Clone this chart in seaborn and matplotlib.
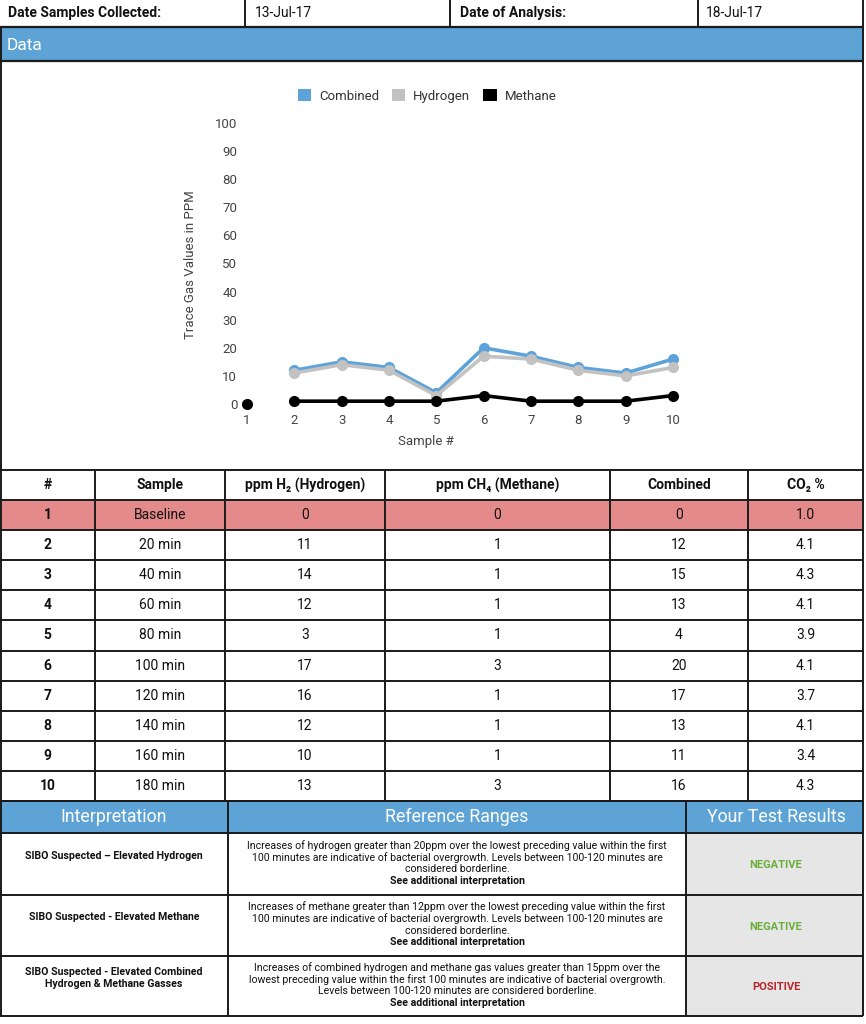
import numpy as np
import pandas as pd
import matplotlib
matplotlib.use("Agg")
import matplotlib.pyplot as plt
from matplotlib.patches import Rectangle, Patch
import seaborn as sns

# ---------- data ----------
sample_no = [1, 2, 3, 4, 5, 6, 7, 8, 9, 10]
sample_names = ["Baseline", "20 min", "40 min", "60 min", "80 min",
                "100 min", "120 min", "140 min", "160 min", "180 min"]
hydrogen = [0, 11, 14, 12, 3, 17, 16, 12, 10, 13]
methane = [0, 1, 1, 1, 1, 3, 1, 1, 1, 3]
combined = [0, 12, 15, 13, 4, 20, 17, 13, 11, 16]
co2 = ["1.0", "4.1", "4.3", "4.1", "3.9", "4.1", "3.7", "4.1", "3.4", "4.3"]

y_ticks = [0, 10, 20, 30, 40, 50, 60, 70, 80, 90, 100]
series_names = ["Combined", "Hydrogen", "Methane"]
series_colors = ["#5DA3DA", "#C2C2C2", "#000000"]

table_cols = ["#", "Sample", "ppm H\u2082 (Hydrogen)", "ppm CH\u2084 (Methane)", "Combined", "CO\u2082 %"]

interp_labels = ["SIBO Suspected \u2013 Elevated Hydrogen",
                 "SIBO Suspected - Elevated Methane",
                 "SIBO Suspected - Elevated Combined\nHydrogen & Methane Gasses"]
ref_ranges = [
    ["Increases of hydrogen greater than 20ppm over the lowest preceding value within the first",
     "100 minutes are indicative of bacterial overgrowth. Levels between 100-120 minutes are",
     "considered borderline."],
    ["Increases of methane greater than 12ppm over the lowest preceding value within the first",
     "100 minutes are indicative of bacterial overgrowth. Levels between 100-120 minutes are",
     "considered borderline."],
    ["Increases of combined hydrogen and methane gas values greater than 15ppm over the",
     "lowest preceding value within the first 100 minutes are indicative of bacterial overgrowth.",
     "Levels between 100-120 minutes are considered borderline."],
]
results = ["NEGATIVE", "NEGATIVE", "POSITIVE"]
result_colors = ["#6AAE3A", "#6AAE3A", "#B3262A"]

HEAD_BLUE = "#5DA3D6"
ROW_RED = "#E58A8A"
RES_GRAY = "#E6E6E6"
TBL_FONT = ["Roboto", "DejaVu Sans"]
CHART_FONT = ["Roboto", "DejaVu Sans"]

sns.set_theme(style="white")
plt.rcParams["font.family"] = CHART_FONT

W, H = 866, 1024
fig = plt.figure(figsize=(W / 100, H / 100), dpi=100)

# background axes in pixel coordinates for the report table
bg = fig.add_axes([0, 0, 1, 1])
bg.set_xlim(0, W)
bg.set_ylim(H, 0)
bg.axis("off")


def hline(y, x0, x1, lw=1.4):
    bg.plot([x0, x1], [y, y], color="#1a1a1a", lw=lw, solid_capstyle="butt")


def vline(x, y0, y1, lw=1.4):
    bg.plot([x, x], [y0, y1], color="#1a1a1a", lw=lw, solid_capstyle="butt")


def txt(x, y, s, size=10, weight="normal", color="#111111", ha="center", family=TBL_FONT):
    bg.text(x, y, s, fontsize=size, fontweight=weight, color=color,
            ha=ha, va="center", family=family)


# ---------- top info row ----------
R = 863
txt(8, 13, "Date Samples Collected:", size=10, weight="bold", ha="left")
txt(255, 13, "13-Jul-17", size=10, ha="left")
txt(460, 13, "Date of Analysis:", size=10, weight="bold", ha="left")
txt(706, 13, "18-Jul-17", size=10, ha="left")
for x in [245, 450, 698, R]:
    vline(x, 0, 27)

# Data bar
bg.add_patch(Rectangle((0, 27), R, 34, facecolor=HEAD_BLUE, edgecolor="none"))
hline(27, 0, R, lw=1.6)
hline(61, 0, R, lw=1.6)
txt(7, 45, "Data", size=12.5, color="white", ha="left", family=CHART_FONT)
vline(R, 27, 470)
vline(0.7, 27, 470)

# ---------- data table ----------
col_x = [0, 95, 225, 385, 610, 748, R]
row_y = [470, 500] + [500 + 30.1 * (i + 1) for i in range(10)]
bg.add_patch(Rectangle((0, row_y[1]), R, row_y[2] - row_y[1], facecolor=ROW_RED, edgecolor="none"))
for y in row_y:
    hline(y, 0, R)
for x in col_x:
    vline(x if x > 0 else 0.7, row_y[0], row_y[-1])
centers = [(col_x[i] + col_x[i + 1]) / 2 for i in range(6)]
for c, name in zip(centers, table_cols):
    txt(c, (row_y[0] + row_y[1]) / 2, name, size=10, weight="bold", family=TBL_FONT)
for i in range(10):
    yc = (row_y[i + 1] + row_y[i + 2]) / 2
    vals = [str(sample_no[i]), sample_names[i], str(hydrogen[i]), str(methane[i]),
            str(combined[i]), co2[i]]
    for j, (c, v) in enumerate(zip(centers, vals)):
        txt(c, yc, v, size=10, weight="bold" if j == 0 else "normal")

# ---------- interpretation table ----------
ix = [0, 228, 686, R]
iy = [801, 833, 895, 956, 1016]
bg.add_patch(Rectangle((0, iy[0]), R, iy[1] - iy[0], facecolor=HEAD_BLUE, edgecolor="none"))
bg.add_patch(Rectangle((ix[2], iy[1]), R - ix[2], iy[-1] - iy[1], facecolor=RES_GRAY, edgecolor="none"))
for y in iy:
    hline(y, 0, R)
for x in ix:
    vline(x if x > 0 else 0.7, iy[0], iy[-1])
for c, name in zip([114, 457, 776], ["Interpretation", "Reference Ranges", "Your Test Results"]):
    txt(c, 817, name, size=12.8, color="white")
for k in range(3):
    yc = (iy[k + 1] + iy[k + 2]) / 2
    txt(114, yc - 8, interp_labels[k], size=7.6, weight="bold")
    top = yc - 18.5
    for m, line in enumerate(ref_ranges[k]):
        txt(457, top + 11.8 * m, line, size=7.6)
    txt(457, top + 11.8 * 3, "See additional interpretation", size=7.6, weight="bold")
    txt(776, yc + 1, results[k], size=8, weight="bold", color=result_colors[k])

# ---------- chart ----------
df = pd.DataFrame({
    "Sample": sample_no * 3,
    "PPM": combined + hydrogen + methane,
    "Gas": sum([[n] * len(sample_no) for n in series_names], []),
})
x0p, x1p, y0p, y1p = 247, 673, 404, 123
ax = fig.add_axes([x0p / W, 1 - y0p / H, (x1p - x0p) / W, (y0p - y1p) / H])
ax.patch.set_alpha(0)
sns.lineplot(data=df[df["Sample"] > 1], x="Sample", y="PPM", hue="Gas",
             hue_order=series_names, palette=series_colors, marker="o",
             markersize=8, markeredgewidth=0, linewidth=2.6, legend=False,
             ax=ax, clip_on=False)
base = df[(df["Sample"] == 1) & (df["Gas"] == "Methane")]
sns.scatterplot(data=base, x="Sample", y="PPM", color="black", s=64,
                linewidth=0, ax=ax, clip_on=False, legend=False)
ax.set_xlim(1, 10)
ax.set_ylim(0, 100)
ax.set_xticks(sample_no)
ax.set_yticks(y_ticks)
ax.tick_params(axis="both", length=0, labelsize=9.5, labelcolor="#444444")
ax.tick_params(axis="y", pad=7)
ax.tick_params(axis="x", pad=7)
ax.set_xlabel("")
ax.set_ylabel("")
sns.despine(ax=ax, left=True, bottom=True)
ax.grid(False)

bg.text(426, 441, "Sample #", fontsize=9.5, color="#444444", ha="center", va="center", family=CHART_FONT)
bg.text(190, 265, "Trace Gas Values in PPM", fontsize=9.5, color="#444444", ha="center",
        va="center", rotation=90, family=CHART_FONT)

handles = [Patch(facecolor=c, edgecolor="none") for c in series_colors]
fig.legend(handles, series_names, loc="center", bbox_to_anchor=(427 / W, 1 - 96 / H),
           ncol=3, frameon=False, handlelength=1.0, handleheight=1.0, handletextpad=0.6,
           columnspacing=1.0, prop={"family": CHART_FONT, "size": 9.5}, labelcolor="#333333")

fig.savefig("out.png", dpi=100)
